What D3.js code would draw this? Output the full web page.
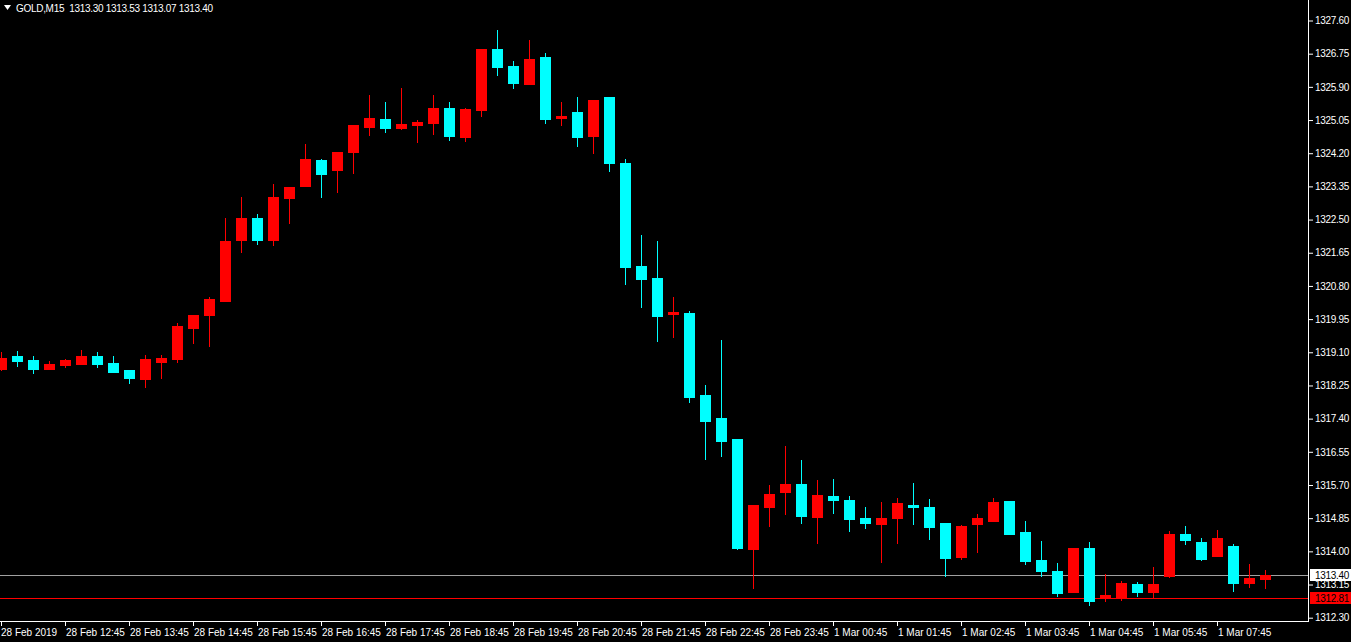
<!DOCTYPE html>
<html><head><meta charset="utf-8">
<script src="https://cdn.jsdelivr.net/npm/d3@7"></script>
<style>
html,body{margin:0;padding:0;background:#000;overflow:hidden;}
svg{display:block;}
text{font-family:"Liberation Sans",Arial,sans-serif;}
</style></head>
<body>
<script>
const symbol = "GOLD,M15";
const opens  = [1318.67,1319.00,1318.90,1318.67,1318.77,1318.80,1319.00,1318.83,1318.65,1318.42,1318.85,1318.93,1319.72,1320.06,1320.41,1321.98,1322.54,1321.98,1323.05,1323.36,1324.03,1323.77,1324.23,1324.87,1325.08,1324.85,1324.92,1324.97,1325.36,1324.62,1325.31,1326.87,1326.43,1325.97,1326.67,1325.10,1325.26,1324.64,1325.64,1323.95,1321.31,1321.00,1320.08,1320.11,1318.01,1317.42,1316.88,1314.06,1315.14,1315.52,1315.72,1314.88,1315.42,1315.32,1314.85,1314.70,1314.85,1315.19,1315.14,1314.73,1313.85,1314.70,1314.78,1315.29,1314.50,1313.78,1313.50,1312.96,1314.09,1312.80,1312.83,1313.16,1312.96,1313.37,1314.44,1314.24,1313.88,1314.14,1313.19,1313.30];
const highs  = [1319.11,1319.13,1319.00,1318.88,1318.93,1319.16,1319.11,1319.00,1318.65,1319.03,1319.03,1319.85,1320.06,1320.52,1322.54,1323.08,1322.64,1323.41,1323.33,1324.44,1324.05,1324.23,1324.92,1325.69,1325.51,1325.87,1325.05,1325.69,1325.51,1325.36,1326.87,1327.36,1326.56,1327.10,1326.77,1325.51,1325.64,1325.56,1325.64,1324.05,1322.10,1321.95,1320.52,1320.16,1318.26,1319.41,1316.88,1315.19,1315.70,1316.70,1316.34,1315.83,1315.85,1315.42,1315.14,1315.26,1315.37,1315.75,1315.34,1314.73,1314.67,1314.96,1315.37,1315.29,1314.78,1314.26,1313.70,1314.09,1314.24,1313.42,1313.24,1313.21,1313.60,1314.52,1314.65,1314.34,1314.55,1314.19,1313.67,1313.53];
const lows   = [1318.65,1318.75,1318.57,1318.67,1318.72,1318.80,1318.72,1318.59,1318.31,1318.21,1318.44,1318.85,1319.34,1319.26,1320.41,1321.67,1321.87,1321.85,1322.41,1323.36,1323.08,1323.21,1323.69,1324.67,1324.74,1324.82,1324.49,1324.69,1324.54,1324.51,1325.15,1326.20,1325.87,1325.97,1324.97,1324.92,1324.39,1324.21,1323.74,1320.85,1320.26,1319.39,1319.49,1317.83,1316.37,1316.44,1314.06,1313.06,1314.65,1314.96,1314.73,1314.21,1314.98,1314.52,1314.60,1313.73,1314.21,1314.70,1314.32,1313.37,1313.80,1313.98,1314.78,1314.44,1313.67,1313.37,1312.86,1312.96,1312.63,1312.73,1312.75,1312.86,1312.80,1313.34,1314.19,1313.78,1313.88,1312.98,1313.09,1313.07];
const closes = [1318.95,1318.88,1318.67,1318.80,1318.90,1319.00,1318.80,1318.59,1318.44,1318.93,1318.95,1319.77,1320.06,1320.47,1321.95,1322.54,1321.98,1323.08,1323.33,1324.05,1323.67,1324.23,1324.92,1325.10,1324.85,1324.95,1325.00,1325.36,1324.64,1325.33,1326.87,1326.41,1326.00,1326.61,1325.08,1325.15,1324.62,1325.56,1323.95,1321.28,1320.98,1320.03,1320.13,1317.95,1317.34,1316.83,1314.09,1315.19,1315.47,1315.72,1314.91,1315.44,1315.32,1314.83,1314.73,1314.85,1315.24,1315.14,1314.62,1313.83,1314.65,1314.85,1315.26,1314.44,1313.75,1313.50,1312.93,1314.09,1312.73,1312.88,1313.19,1312.96,1313.16,1314.44,1314.29,1313.80,1314.34,1313.19,1313.31,1313.40];
const timeTickIndex  = [0,4,8,12,16,20,24,28,32,36,40,44,48,52,56,60,64,68,72,76];
const timeTickLabels = ["28 Feb 2019","28 Feb 12:45","28 Feb 13:45","28 Feb 14:45","28 Feb 15:45","28 Feb 16:45","28 Feb 17:45","28 Feb 18:45","28 Feb 19:45","28 Feb 20:45","28 Feb 21:45","28 Feb 22:45","28 Feb 23:45","1 Mar 00:45","1 Mar 01:45","1 Mar 02:45","1 Mar 03:45","1 Mar 04:45","1 Mar 05:45","1 Mar 07:45"];
const priceTicks = [1327.60,1326.75,1325.90,1325.05,1324.20,1323.35,1322.50,1321.65,1320.80,1319.95,1319.10,1318.25,1317.40,1316.55,1315.70,1314.85,1314.00,1313.15,1312.30];
const bidPrice = 1313.40;
const askPrice = 1312.81;

const W = 1351, H = 642;
const axisX = 1308, axisY = 621;
const upColor = "#ff0000", downColor = "#00ffff";

const svg = d3.select("body").append("svg").attr("width", W).attr("height", H)
  .style("background", "#000");

const x = d3.scaleLinear().domain([0, 79]).range([1, 1265]);
const y = d3.scaleLinear().domain([1312.30, 1327.60]).range([617.7, 20.5]);

const data = opens.map((o, i) => ({i, o, h: highs[i], l: lows[i], c: closes[i]}));

const plot = svg.append("g");
plot.append("line").attr("x1", 0).attr("x2", axisX).attr("y1", Math.round(y(bidPrice)) + 0.5).attr("y2", Math.round(y(bidPrice)) + 0.5)
  .attr("stroke", "#a0a0a0").attr("stroke-width", 1);
plot.append("line").attr("x1", 0).attr("x2", axisX).attr("y1", Math.round(y(askPrice)) + 0.5).attr("y2", Math.round(y(askPrice)) + 0.5)
  .attr("stroke", "#ff0000").attr("stroke-width", 1);

const cg = plot.selectAll("g.c").data(data).join("g").attr("class", "c");
cg.append("line")
  .attr("x1", d => Math.round(x(d.i)) + 0.5).attr("x2", d => Math.round(x(d.i)) + 0.5)
  .attr("y1", d => Math.round(y(d.h))).attr("y2", d => Math.round(y(d.l)) + 1)
  .attr("stroke", d => d.c >= d.o ? upColor : downColor).attr("stroke-width", 1);
cg.append("rect")
  .attr("x", d => Math.round(x(d.i)) - 5)
  .attr("width", 11)
  .attr("y", d => Math.round(y(Math.max(d.o, d.c))))
  .attr("height", d => Math.max(2, Math.round(y(Math.min(d.o, d.c))) - Math.round(y(Math.max(d.o, d.c))) + 1))
  .attr("fill", d => d.c >= d.o ? upColor : downColor);

// frame
svg.append("line").attr("x1", axisX + 0.5).attr("x2", axisX + 0.5).attr("y1", 0).attr("y2", axisY + 1)
  .attr("stroke", "#fff");
svg.append("line").attr("x1", 0).attr("x2", axisX + 1).attr("y1", axisY + 0.5).attr("y2", axisY + 0.5)
  .attr("stroke", "#fff");

// price axis
const yAxis = d3.axisRight(y).tickValues(priceTicks).tickFormat(d3.format(".2f")).tickSize(4).tickPadding(2);
const ya = svg.append("g").attr("transform", `translate(${axisX + 1},0)`).call(yAxis);
ya.select(".domain").remove();
ya.selectAll(".tick line").attr("stroke", "#fff");
ya.selectAll(".tick text").attr("fill", "#fff").attr("font-size", "10px").attr("letter-spacing", "-0.3px");

// time axis
const tg = svg.append("g");
timeTickIndex.forEach((k, j) => {
  const px = Math.round(x(k)) + 0.5;
  tg.append("line").attr("x1", px).attr("x2", px).attr("y1", axisY).attr("y2", axisY + 5).attr("stroke", "#fff");
  tg.append("text").attr("x", k === 0 ? 1 : px + 0.5).attr("y", 636).attr("fill", "#fff")
    .attr("font-size", "10px").text(timeTickLabels[j]);
});

// bid/ask labels
function priceBox(p, bg, fg) {
  const cy = Math.round(y(p));
  svg.append("rect").attr("x", axisX + 2).attr("y", cy - 6).attr("width", W - axisX - 2).attr("height", 12).attr("fill", bg);
  svg.append("text").attr("x", axisX + 7).attr("y", cy + 4).attr("fill", fg).attr("font-size", "10px")
    .attr("letter-spacing", "-0.3px").text(d3.format(".2f")(p));
}
priceBox(bidPrice, "#ffffff", "#000000");
priceBox(askPrice, "#ff0000", "#000000");

// header
svg.append("path").attr("d", "M4,5 L11,5 L7.5,10 Z").attr("fill", "#fff");
const last = data[data.length - 1];
svg.append("text").attr("x", 16).attr("y", 12).attr("fill", "#fff").attr("font-size", "10px")
  .attr("letter-spacing", "-0.3px").attr("xml:space", "preserve")
  .text(`${symbol}  ${last.o.toFixed(2)} ${last.h.toFixed(2)} ${last.l.toFixed(2)} ${last.c.toFixed(2)}`);
</script>
</body></html>
